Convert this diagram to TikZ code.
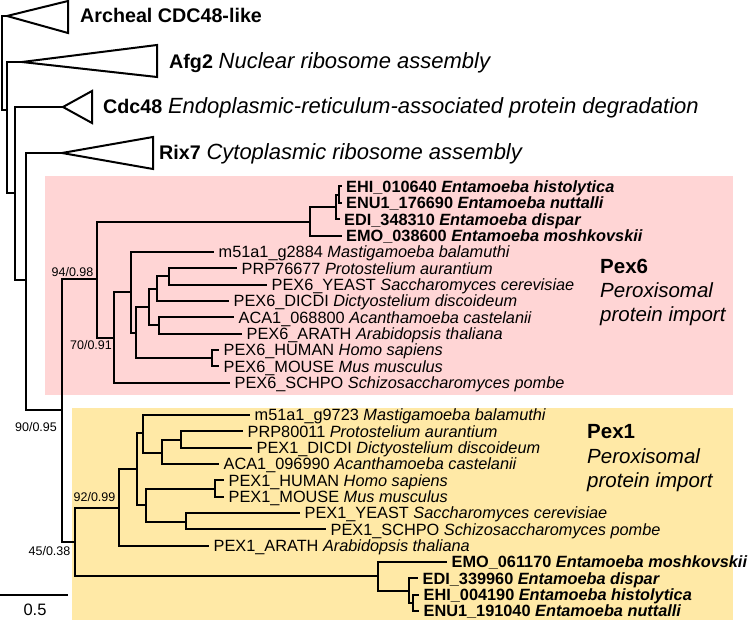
\documentclass[tikz,border=0pt]{standalone}
\usepackage{fontspec}
\setmainfont{Liberation Sans}
\usetikzlibrary{positioning}
\definecolor{pexsixbg}{RGB}{255,213,213}
\definecolor{pexonebg}{RGB}{255,233,166}
\newcommand{\cladebf}{\fontsize{19.7}{24}\selectfont\bfseries}
\newcommand{\cladeit}{\fontsize{22}{24}\selectfont\itshape}

\begin{document}
\begin{tikzpicture}[x=1pt,y=-1pt,
		br/.style={line width=2pt},
		lab/.style={anchor=west,inner sep=0pt,font=\fontsize{16.3}{18}\selectfont,text height=11.7pt,text depth=0pt},
		ent/.style={lab,font=\fontsize{16.3}{18}\selectfont\bfseries},
		clab/.style={anchor=base west,inner sep=0pt,font=\fontsize{20.5}{24}\selectfont},
		supp/.style={inner sep=0pt,font=\fontsize{12.5}{14}\selectfont}]
		\useasboundingbox (0,0) rectangle (750,620);
		\fill[pexsixbg] (45,176) rectangle (733,395);
		\fill[pexonebg] (72,408) rectangle (733,620);
		\coordinate (r0) at (1.5,63);
		\coordinate (arch) at (7,16);
		\coordinate (r1) at (7,110);
		\coordinate (afg) at (22,62);
		\coordinate (r2) at (15,193);
		\coordinate (cdc) at (63,107);
		\coordinate (r3) at (26,280);
		\coordinate (rix) at (62,153);
		\coordinate (r4) at (62,409.5);
		\coordinate (p6) at (97,279.5);
		\coordinate (r5) at (75,541.5);
		\draw[br] (r0) |- (arch) (r0) |- (r1) (r1) |- (afg) (r1) |- (r2) (r2) |- (cdc) (r2) |- (r3)
			(r3) |- (rix) (r3) |- (r4) (r4) |- (p6) (r4) |- (r5);
		\draw[br] (arch) -- ++(61,-15) -- ++(0,32) -- cycle;
		\draw[br] (afg) -- ++(135,-17) -- ++(0,32) -- cycle;
		\draw[br] (cdc) -- ++(29,-16) -- ++(0,32) -- cycle;
		\draw[br] (rix) -- ++(91,-16) -- ++(0,32) -- cycle;
		\node[clab,font=\cladebf] (larch) at (80,23) {Archeal CDC48-like};
		\node[clab] (lafg) at (169,69) {{\cladebf Afg2} {\cladeit Nuclear ribosome assembly}};
		\node[clab] (lcdc) at (103,114) {{\cladebf Cdc48} {\cladeit Endoplasmic-reticulum-associated protein degradation}};
		\node[clab] (lrix) at (159,160) {{\cladebf Rix7} {\cladeit Cytoplasmic ribosome assembly}};

		\coordinate (e6) at (310,222);
		\coordinate (e6a) at (336,207);
		\coordinate (e6b) at (338.5,195);
		\coordinate (ehi6) at (341.5,186.5);
		\coordinate (enu6) at (341.5,203);
		\coordinate (edi6) at (339.5,219.2);
		\coordinate (emo6) at (341.5,235.6);
		\coordinate (n70) at (114,338);
		\coordinate (n131) at (131,292.5);
		\coordinate (m516) at (214,252);
		\coordinate (n136) at (136,333);
		\coordinate (n149) at (149,307.5);
		\coordinate (n157) at (157,289);
		\coordinate (n169) at (169,276.5);
		\coordinate (prp6) at (237,268.3);
		\coordinate (yst6) at (267,284.6);
		\coordinate (dic6) at (229,301);
		\coordinate (n159) at (159,325.5);
		\coordinate (aca6) at (234,317.3);
		\coordinate (ara6) at (242,333.7);
		\coordinate (hm6) at (212,358.2);
		\coordinate (hum6) at (219,350);
		\coordinate (mou6) at (219,366.4);
		\coordinate (sch6) at (230,382.7);
		\draw[br] (p6) |- (e6) (p6) |- (n70)
			(e6) |- (e6a) (e6) |- (emo6) (e6a) |- (e6b) (e6a) |- (edi6) (e6b) |- (ehi6) (e6b) |- (enu6)
			(n70) |- (n131) (n70) |- (sch6) (n131) |- (m516) (n131) |- (n136)
			(n136) |- (n149) (n136) |- (hm6) (n149) |- (n157) (n149) |- (n159)
			(n157) |- (n169) (n157) |- (dic6) (n169) |- (prp6) (n169) |- (yst6)
			(n159) |- (aca6) (n159) |- (ara6) (hm6) |- (hum6) (hm6) |- (mou6);
		\node[ent, right=4.5pt of ehi6] (lehi6) {EHI\_010640 \textit{Entamoeba histolytica}};
		\node[ent, right=4.5pt of enu6] (lenu6) {ENU1\_176690 \textit{Entamoeba nuttalli}};
		\node[ent, right=4.5pt of edi6] (ledi6) {EDI\_348310 \textit{Entamoeba dispar}};
		\node[ent, right=4.5pt of emo6] (lemo6) {EMO\_038600 \textit{Entamoeba moshkovskii}};
		\node[lab, right=4.5pt of m516] (lm516) {m51a1\_g2884 \textit{Mastigamoeba balamuthi}};
		\node[lab, right=4.5pt of prp6] (lprp6) {PRP76677 \textit{Protostelium aurantium}};
		\node[lab, right=4.5pt of yst6] (lyst6) {PEX6\_YEAST \textit{Saccharomyces cerevisiae}};
		\node[lab, right=4.5pt of dic6] (ldic6) {PEX6\_DICDI \textit{Dictyostelium discoideum}};
		\node[lab, right=4.5pt of aca6] (laca6) {ACA1\_068800 \textit{Acanthamoeba castelanii}};
		\node[lab, right=4.5pt of ara6] (lara6) {PEX6\_ARATH \textit{Arabidopsis thaliana}};
		\node[lab, right=4.5pt of hum6] (lhum6) {PEX6\_HUMAN \textit{Homo sapiens}};
		\node[lab, right=4.5pt of mou6] (lmou6) {PEX6\_MOUSE \textit{Mus musculus}};
		\node[lab, right=4.5pt of sch6] (lsch6) {PEX6\_SCHPO \textit{Schizosaccharomyces pombe}};
		\node[clab] (pexsix) at (600,274) {\bfseries Pex6};
		\node[clab] (pexsixa) at (600,298) {\itshape Peroxisomal};
		\node[clab] (pexsixb) at (600,322) {\itshape protein import};

		\coordinate (n92) at (119,507.5);
		\coordinate (n137) at (137,469);
		\coordinate (n143) at (143,433);
		\coordinate (m511) at (250,415);
		\coordinate (n162) at (162,453);
		\coordinate (n181) at (181,440);
		\coordinate (prp1) at (243,431.3);
		\coordinate (dic1) at (252,447.7);
		\coordinate (aca1) at (219,464);
		\coordinate (n146) at (146,505);
		\coordinate (hm1) at (215,488.5);
		\coordinate (hum1) at (224,480.3);
		\coordinate (mou1) at (224,496.7);
		\coordinate (n186) at (186,522);
		\coordinate (yst1) at (300,513);
		\coordinate (sch1) at (326,529.3);
		\coordinate (ara1) at (209,545.6);
		\coordinate (e1) at (378,576);
		\coordinate (emo1) at (447,562);
		\coordinate (e1a) at (409,591);
		\coordinate (edi1) at (418,578.3);
		\coordinate (e1b) at (413,603);
		\coordinate (ehi1) at (419,594.6);
		\coordinate (enu1) at (419,611);
		\draw[br] (r5) |- (n92) (r5) |- (e1)
			(n92) |- (n137) (n92) |- (ara1) (n137) |- (n143) (n137) |- (n146)
			(n143) |- (m511) (n143) |- (n162) (n162) |- (n181) (n162) |- (aca1)
			(n181) |- (prp1) (n181) |- (dic1) (n146) |- (hm1) (n146) |- (n186)
			(hm1) |- (hum1) (hm1) |- (mou1) (n186) |- (yst1) (n186) |- (sch1)
			(e1) |- (emo1) (e1) |- (e1a) (e1a) |- (edi1) (e1a) |- (e1b) (e1b) |- (ehi1) (e1b) |- (enu1);
		\node[lab, right=4.5pt of m511] (lm511) {m51a1\_g9723 \textit{Mastigamoeba balamuthi}};
		\node[lab, right=4.5pt of prp1] (lprp1) {PRP80011 \textit{Protostelium aurantium}};
		\node[lab, right=4.5pt of dic1] (ldic1) {PEX1\_DICDI \textit{Dictyostelium discoideum}};
		\node[lab, right=4.5pt of aca1] (laca1) {ACA1\_096990 \textit{Acanthamoeba castelanii}};
		\node[lab, right=4.5pt of hum1] (lhum1) {PEX1\_HUMAN \textit{Homo sapiens}};
		\node[lab, right=4.5pt of mou1] (lmou1) {PEX1\_MOUSE \textit{Mus musculus}};
		\node[lab, right=4.5pt of yst1] (lyst1) {PEX1\_YEAST \textit{Saccharomyces cerevisiae}};
		\node[lab, right=4.5pt of sch1] (lsch1) {PEX1\_SCHPO \textit{Schizosaccharomyces pombe}};
		\node[lab, right=4.5pt of ara1] (lara1) {PEX1\_ARATH \textit{Arabidopsis thaliana}};
		\node[ent, right=4.5pt of emo1] (lemo1) {EMO\_061170 \textit{Entamoeba moshkovskii}};
		\node[ent, right=4.5pt of edi1] (ledi1) {EDI\_339960 \textit{Entamoeba dispar}};
		\node[ent, right=4.5pt of ehi1] (lehi1) {EHI\_004190 \textit{Entamoeba histolytica}};
		\node[ent, right=4.5pt of enu1] (lenu1) {ENU1\_191040 \textit{Entamoeba nuttalli}};
		\node[clab] (pexone) at (587,438) {\bfseries Pex1};
		\node[clab] (pexonea) at (587,463) {\itshape Peroxisomal};
		\node[clab] (pexoneb) at (587,487) {\itshape protein import};

		\node[supp] (s94) at (72.5,272) {94/0.98};
		\node[supp] (s70) at (91,345.5) {70/0.91};
		\node[supp] (s90) at (36,427.5) {90/0.95};
		\node[supp] (s92) at (94.5,497.5) {92/0.99};
		\node[supp] (s45) at (49.5,551) {45/0.38};

		\coordinate (sb0) at (0,595);
		\coordinate (sb1) at (68,595);
		\draw[br] (sb0) -- (sb1);
		\node[inner sep=0pt,font=\fontsize{16.5}{18}\selectfont] (sblab) at (35,610) {0.5};
\end{tikzpicture}
\end{document}
